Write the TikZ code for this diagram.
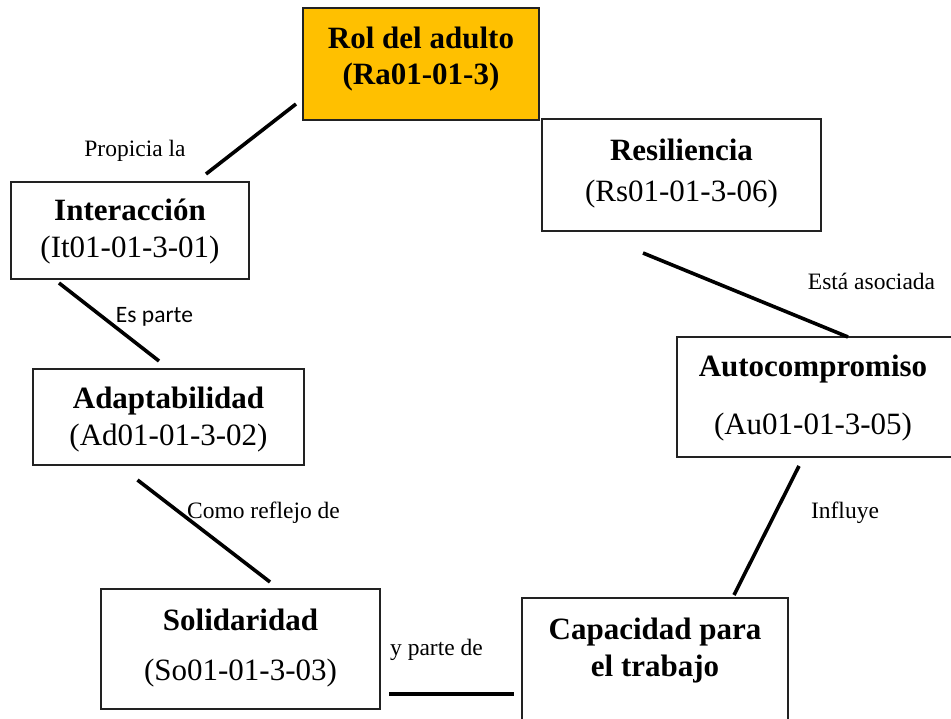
\documentclass[tikz,border=0pt]{standalone}
\usepackage{fontspec}
\setmainfont{Liberation Serif}
\newfontfamily\labsans{Carlito}
\definecolor{rolorange}{HTML}{FFC000}
\definecolor{boxline}{HTML}{222222}
\begin{document}
\begin{tikzpicture}[x=1pt,y=-1pt,
  box/.style={draw=boxline, line width=1.1pt, inner sep=0pt, fill=white},
  ttl/.style={font=\fontsize{31}{36}\selectfont\bfseries, anchor=base, inner sep=0pt},
  code/.style={font=\fontsize{31}{36}\selectfont, anchor=base, inner sep=0pt},
  lab/.style={font=\fontsize{23.5}{26}\selectfont, anchor=base, inner sep=0pt},
  labs/.style={font=\labsans\fontsize{23.5}{26}\selectfont, anchor=base, inner sep=0pt},
  link/.style={line width=3.6pt, draw=black}]
\useasboundingbox (0,0) rectangle (951,719);
\clip (0,0) rectangle (951,719);

% boxes
\node[box, fill=rolorange, minimum width=236, minimum height=112] (rol) at (421,64) {};
\node[box, minimum width=279, minimum height=112] (res) at (681.5,175) {};
\node[box, minimum width=238, minimum height=97] (int) at (130,230.5) {};
\node[box, minimum width=271, minimum height=96] (ada) at (168.5,417) {};
\node[box, minimum width=280, minimum height=120] (aut) at (817,397) {};
\node[box, minimum width=279, minimum height=120] (sol) at (240.5,649) {};
\node[box, minimum width=266, minimum height=170] (cap) at (655,683) {};

% texts
\node[ttl] (rolT) at (421,49) {Rol del adulto};
\node[ttl] (rolC) at (421,85) {(Ra01-01-3)};
\node[ttl] (resT) at (681.5,161) {Resiliencia};
\node[code] (resC) at (681.5,202) {(Rs01-01-3-06)};
\node[ttl] (intT) at (130,221) {Interacción};
\node[code] (intC) at (130,258) {(It01-01-3-01)};
\node[ttl] (adaT) at (168.5,409) {Adaptabilidad};
\node[code] (adaC) at (168.5,446) {(Ad01-01-3-02)};
\node[ttl] (autT) at (813,377) {Autocompromiso};
\node[code] (autC) at (813,434) {(Au01-01-3-05)};
\node[ttl] (solT) at (240.5,630) {Solidaridad};
\node[code] (solC) at (240.5,680) {(So01-01-3-03)};
\node[ttl] (capT) at (655,639) {Capacidad para};
\node[ttl] (capT2) at (655,676) {el trabajo};

% connector end points
\coordinate (a1) at (296,104);
\coordinate (a2) at (206,174);
\coordinate (b1) at (59,283);
\coordinate (b2) at (159,361);
\coordinate (c1) at (137.5,480);
\coordinate (c2) at (270,582);
\coordinate (d1) at (389,694);
\coordinate (d2) at (514,694);
\coordinate (e1) at (734,595);
\coordinate (e2) at (799,466);
\coordinate (f1) at (848,337);
\coordinate (f2) at (643,253);

\draw[link] (a1) -- (a2);
\draw[link] (b1) -- (b2);
\draw[link] (c1) -- (c2);
\draw[link] (d1) -- (d2);
\draw[link] (e1) -- (e2);
\draw[link] (f1) -- (f2);

% labels
\node[lab] (l1) at (135,157) {Propicia la};
\node[labs] (l2) at (154.5,323) {Es parte};
\node[lab] (l3) at (263.5,518) {Como reflejo de};
\node[lab] (l4) at (436.5,655) {y parte de};
\node[lab] (l5) at (871.5,290) {Está asociada};
\node[lab] (l6) at (845,518) {Influye};
\end{tikzpicture}
\end{document}
